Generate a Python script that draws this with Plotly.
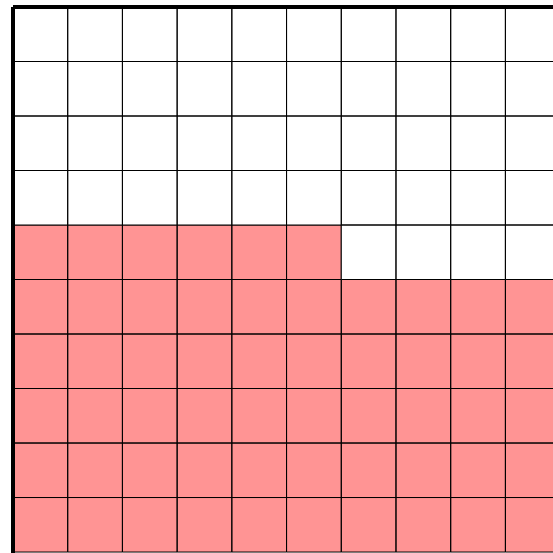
import plotly.graph_objects as go

# Waffle chart data
categories = ["Filled", "Empty"]
values = [56, 44]
n_rows = 10
n_cols = 10
colors = ["#ff9494", "#ffffff"]

fig = go.Figure()

# Build cells from the values: fill from bottom-left, row by row
cat_of_cell = []
for cat, v in zip(categories, values):
    cat_of_cell += [cat] * v

xs_by_cat = {c: [] for c in categories}
ys_by_cat = {c: [] for c in categories}
for i, cat in enumerate(cat_of_cell):
    r = i // n_cols
    c = i % n_cols
    xs_by_cat[cat] += [c, c + 1, c + 1, c, c, None]
    ys_by_cat[cat] += [r, r, r + 1, r + 1, r, None]

for cat, col in zip(categories, colors):
    fig.add_trace(go.Scatter(
        x=xs_by_cat[cat], y=ys_by_cat[cat], mode="lines",
        fill="toself", fillcolor=col,
        line=dict(color="black", width=1),
        name=cat, hoverinfo="skip", showlegend=False,
    ))

fig.update_layout(
    width=553, height=553,
    margin=dict(l=13, r=0, t=7, b=0),
    paper_bgcolor="white", plot_bgcolor="white",
    showlegend=False,
)
fig.update_xaxes(range=[0, 9.87], showgrid=False, zeroline=False,
                 showticklabels=False, ticks="", showline=False)
fig.update_yaxes(range=[-0.018, 10], showgrid=False, zeroline=False,
                 showticklabels=False, ticks="", showline=False)
# thick left and top borders
fig.add_shape(type="line", xref="paper", yref="paper", x0=0, x1=0, y0=0, y1=1,
              line=dict(color="black", width=4))
fig.add_shape(type="line", xref="paper", yref="paper", x0=0, x1=1, y0=1, y1=1,
              line=dict(color="black", width=4))

fig.write_html(
    "out.html",
    config={"displayModeBar": False},
    post_script="document.body.style.margin='0';document.body.style.overflow='hidden';",
)
